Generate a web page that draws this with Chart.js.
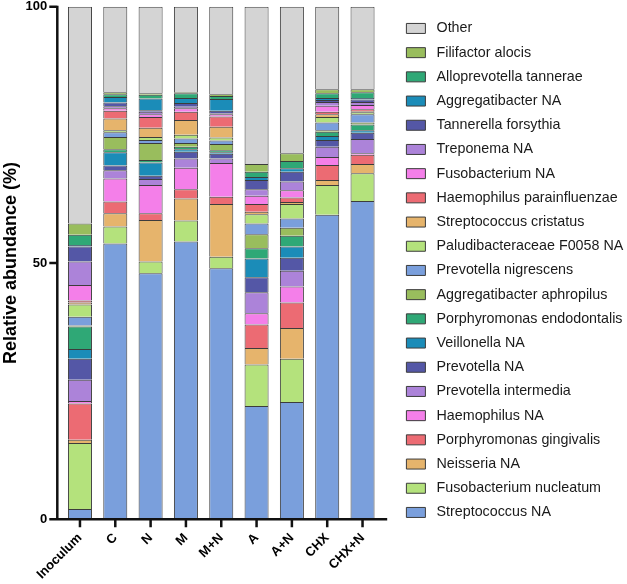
<!DOCTYPE html>
<html>
<head>
<meta charset="utf-8">
<script src="https://cdn.jsdelivr.net/npm/chart.js"></script>
<style>
  html, body { margin: 0; padding: 0; background: #fff; }
</style>
</head>
<body>
<canvas id="chart1" width="627" height="584"></canvas>
<script>
const groups = ["Inoculum", "C", "N", "M", "M+N", "A", "A+N", "CHX", "CHX+N"];

// relative abundance (%) per group, bottom of the stack first
const streptococcusNA = [2.0, 53.8, 48.0, 54.2, 49.0, 22.1, 22.9, 59.4, 62.1];
const fusobacteriumNucleatum = [12.9, 3.3, 2.3, 4.1, 2.2, 8.1, 8.4, 5.8, 5.4];
const neisseriaNA = [0.6, 2.6, 8.1, 4.3, 10.3, 3.2, 6.0, 1.0, 1.8];
const porphyromonasGingivalis = [7.1, 2.3, 1.3, 1.8, 1.4, 4.6, 5.0, 2.9, 1.8];
const haemophilusNA = [0.5, 4.5, 5.5, 4.2, 6.6, 2.2, 3.1, 1.6, 0.3];
const prevotellaIntermedia = [4.1, 1.6, 1.2, 1.8, 0.9, 4.1, 3.1, 2.0, 2.8];
const prevotellaNA = [4.1, 0.9, 0.6, 1.3, 0.9, 2.9, 2.5, 1.3, 1.2];
const veillonellaNA = [1.9, 2.6, 2.6, 0.5, 0.3, 3.7, 2.2, 0.8, 0.5];
const porphyromonasEndodontalis = [4.4, 0.6, 0.5, 0.5, 0.4, 2.0, 2.1, 0.8, 1.1];
const aggregatibacterAphropilus = [0.2, 2.4, 3.3, 0.7, 1.2, 2.7, 1.6, 0.3, 0.4];
const prevotellaNigrescens = [1.7, 0.9, 0.6, 0.9, 0.7, 2.1, 1.8, 1.5, 1.6];
const paludibacteraceaeF0058 = [2.4, 0.4, 0.6, 0.7, 0.6, 1.8, 2.8, 1.1, 0.4];
const streptococcusCristatus = [0.4, 2.3, 1.8, 2.9, 2.1, 0.5, 0.4, 0.5, 0.2];
const haemophilusParainfluenzae = [0.4, 1.5, 2.1, 1.6, 2.0, 1.5, 0.9, 0.5, 0.4];
const fusobacteriumNA = [3.0, 0.5, 0.5, 0.7, 0.4, 1.6, 1.4, 1.2, 0.8];
const treponemaNA = [4.6, 0.4, 0.5, 0.3, 0.2, 1.3, 1.7, 0.7, 0.6];
const tannerellaForsythia = [2.9, 0.7, 0.3, 0.7, 0.5, 1.8, 1.9, 0.4, 0.5];
const aggregatibacterNA = [0.3, 1.1, 2.3, 1.0, 2.3, 0.6, 0.7, 0.4, 0.3];
const alloprevotellaTannerae = [2.0, 0.5, 0.7, 0.9, 0.6, 1.0, 1.4, 0.9, 1.1];
const filifactorAlocis = [2.2, 0.4, 0.3, 0.2, 0.3, 1.5, 1.5, 0.8, 0.6];
const other = [42.3, 16.7, 16.9, 16.7, 17.1, 30.7, 28.6, 16.1, 16.1];

const taxa = [
  ["Streptococcus NA", streptococcusNA],
  ["Fusobacterium nucleatum", fusobacteriumNucleatum],
  ["Neisseria NA", neisseriaNA],
  ["Porphyromonas gingivalis", porphyromonasGingivalis],
  ["Haemophilus NA", haemophilusNA],
  ["Prevotella intermedia", prevotellaIntermedia],
  ["Prevotella NA", prevotellaNA],
  ["Veillonella NA", veillonellaNA],
  ["Porphyromonas endodontalis", porphyromonasEndodontalis],
  ["Aggregatibacter aphropilus", aggregatibacterAphropilus],
  ["Prevotella nigrescens", prevotellaNigrescens],
  ["Paludibacteraceae F0058 NA", paludibacteraceaeF0058],
  ["Streptococcus cristatus", streptococcusCristatus],
  ["Haemophilus parainfluenzae", haemophilusParainfluenzae],
  ["Fusobacterium NA", fusobacteriumNA],
  ["Treponema NA", treponemaNA],
  ["Tannerella forsythia", tannerellaForsythia],
  ["Aggregatibacter NA", aggregatibacterNA],
  ["Alloprevotella tannerae", alloprevotellaTannerae],
  ["Filifactor alocis", filifactorAlocis],
  ["Other", other]
];

// palette repeats every 10 taxa, grey for Other
const palette = ['#7A9FDC', '#B4E27C', '#E6B46C', '#EC6B73', '#F47FE9',
                 '#AC83D9', '#5457A6', '#1B8CB8', '#2FA876', '#99BD5D'];
const otherColor = '#D4D4D4';

const font = "'Liberation Sans', Arial, sans-serif";

const datasets = taxa.map(([name, values], i) => ({
  label: name,
  data: values,
  backgroundColor: name === 'Other' ? otherColor : palette[i % 10],
  borderColor: '#3c3c3c',
  borderWidth: 1,
  barPercentage: 0.68,
  categoryPercentage: 1
}));

// GraphPad style axes: lines sit a bit outside the plot area
const axisLines = {
  id: 'axisLines',
  afterDatasetsDraw(chart) {
    const {ctx, chartArea: a, scales: {x, y}} = chart;
    const ax = a.left - 5;
    ctx.save();
    ctx.strokeStyle = '#111';
    ctx.lineWidth = 2.5;
    ctx.beginPath();
    ctx.moveTo(ax, y.getPixelForValue(100) - 1);
    ctx.lineTo(ax, a.bottom + 1.25);
    ctx.moveTo(ax - 1.25, a.bottom);
    ctx.lineTo(a.right + 7, a.bottom);
    y.ticks.forEach(t => {
      const py = y.getPixelForValue(t.value);
      ctx.moveTo(ax - 8, py);
      ctx.lineTo(ax, py);
    });
    x.ticks.forEach((t, i) => {
      const px = x.getPixelForTick(i);
      ctx.moveTo(px, a.bottom);
      ctx.lineTo(px, a.bottom + 8);
    });
    ctx.stroke();
    ctx.restore();
  }
};

new Chart("chart1", {
  type: "bar",
  data: { labels: groups, datasets: datasets },
  plugins: [axisLines],
  options: {
    responsive: false,
    animation: false,
    layout: { padding: 0 },
    plugins: {
      tooltip: { enabled: false },
      legend: {
        position: 'right',
        align: 'start',
        reverse: true,
        maxWidth: 230.5,
        title: { display: true, text: '', font: { size: 1 }, padding: { top: 10.2, bottom: 0 } },
        labels: {
          boxWidth: 19,
          boxHeight: 10,
          padding: 9.9,
          color: '#1a1a1a',
          font: { family: font, size: 14.3 },
          generateLabels(chart) {
            const items = Chart.defaults.plugins.legend.labels.generateLabels(chart);
            items.forEach(it => { it.text = ' ' + it.text; });
            return items;
          }
        }
      }
    },
    scales: {
      x: {
        stacked: true,
        grid: { display: false, drawTicks: false },
        border: { display: false },
        ticks: {
          autoSkip: false,
          maxRotation: 45,
          minRotation: 45,
          padding: 11,
          color: '#000',
          font: { family: font, size: 13, weight: 'bold' }
        },
        afterFit(s) { s.height = 64.7; s.paddingTop = 0; s.paddingBottom = 0; }
      },
      y: {
        stacked: true,
        min: 0,
        max: 100,
        grid: { display: false, drawTicks: false },
        border: { display: false },
        ticks: {
          stepSize: 50,
          padding: 15,
          color: '#000',
          font: { family: font, size: 13, weight: 'bold', lineHeight: 1 }
        },
        title: {
          display: true,
          text: 'Relative abundance (%)',
          color: '#000',
          padding: { top: 0, bottom: 0 },
          font: { family: font, size: 18, weight: 'bold' }
        },
        afterFit(s) { s.width = 62.3; s.paddingTop = 6.7; s.paddingBottom = 0; }
      },
      spacer: {
        position: 'right',
        grid: { display: false, drawTicks: false },
        border: { display: false },
        ticks: { display: false },
        afterFit(s) { s.width = 16.3; s.paddingTop = 0; s.paddingBottom = 0; }
      }
    }
  }
});
</script>
</body>
</html>
